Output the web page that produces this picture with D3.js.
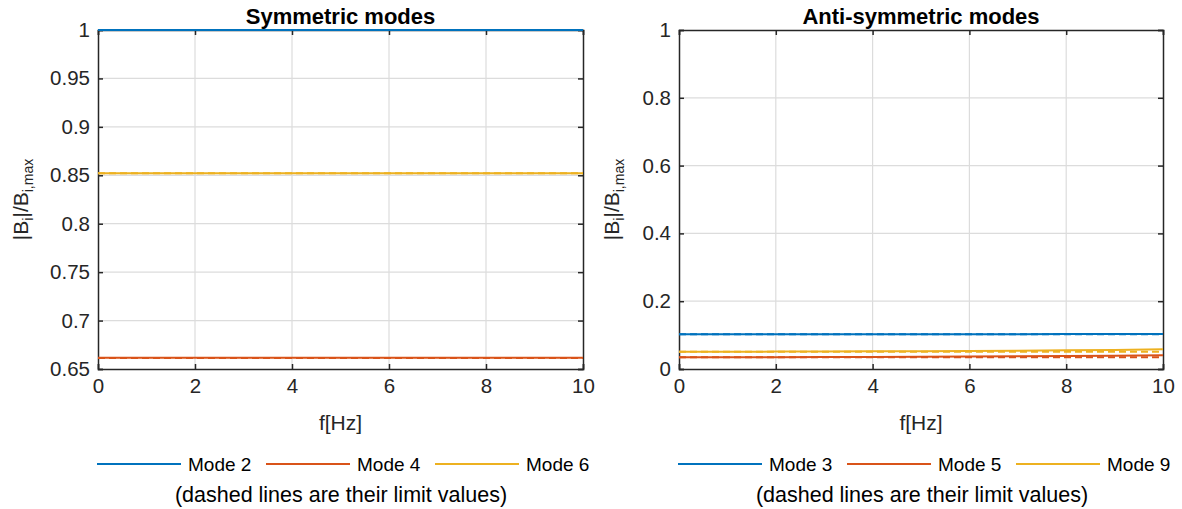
<!DOCTYPE html>
<html>
<head>
<meta charset="utf-8">
<script src="https://cdn.jsdelivr.net/npm/d3@7"></script>
<style>
  html, body { margin: 0; padding: 0; background: #fff; }
  svg { display: block; font-family: "Liberation Sans", Arial, sans-serif; }
</style>
</head>
<body>
<svg id="chart" width="1182" height="509"></svg>
<script>
// Frequency samples (Hz)
const freq = [0, 1, 2, 3, 4, 5, 6, 7, 8, 9, 10];

// Symmetric modes: normalised amplitude |B_i|/B_i,max and their limit values
const mode2 = [1, 1, 1, 1, 1, 1, 1, 1, 1, 1, 1];
const mode2Limit = 1;
const mode4 = [0.6617, 0.6617, 0.6617, 0.6617, 0.6617, 0.6617, 0.6617, 0.6617, 0.6617, 0.6617, 0.6617];
const mode4Limit = 0.6613;
const mode6 = [0.8522, 0.8522, 0.8522, 0.8522, 0.8522, 0.8522, 0.8522, 0.8522, 0.8522, 0.8522, 0.8522];
const mode6Limit = 0.8522;

// Anti-symmetric modes
const mode3 = [0.1024, 0.1024, 0.1024, 0.1025, 0.1025, 0.1026, 0.1027, 0.1028, 0.1030, 0.1032, 0.1035];
const mode3Limit = 0.1024;
const mode5 = [0.0345, 0.0346, 0.0348, 0.0351, 0.0355, 0.0360, 0.0366, 0.0374, 0.0382, 0.0392, 0.0404];
const mode5Limit = 0.0345;
const mode9 = [0.0510, 0.0511, 0.0513, 0.0516, 0.0520, 0.0526, 0.0533, 0.0541, 0.0551, 0.0564, 0.0580];
const mode9Limit = 0.0510;

// Tick values
const xTicks = [0, 2, 4, 6, 8, 10];
const yTicksSym = [0.65, 0.7, 0.75, 0.8, 0.85, 0.9, 0.95, 1];
const yTicksAnti = [0, 0.2, 0.4, 0.6, 0.8, 1];

const colors = { blue: "#0072BD", red: "#D95319", yellow: "#EDB120" };
const axisColor = "#262626";
const gridColor = "#dcdcdc";

const svg = d3.select("#chart");

function panel(opts) {
  const { left, right, top, bottom, yDomain, yTicks, yFormat, title, series, legendNames, yLabelX } = opts;
  const x = d3.scaleLinear().domain([0, 10]).range([left, right]);
  const y = d3.scaleLinear().domain(yDomain).range([bottom, top]);
  const g = svg.append("g");

  // grid
  g.append("g").selectAll("line").data(xTicks.slice(1, -1)).join("line")
    .attr("x1", d => x(d)).attr("x2", d => x(d)).attr("y1", top).attr("y2", bottom)
    .attr("stroke", gridColor).attr("stroke-width", 1.2);
  g.append("g").selectAll("line").data(yTicks.slice(1, -1)).join("line")
    .attr("y1", d => y(d)).attr("y2", d => y(d)).attr("x1", left).attr("x2", right)
    .attr("stroke", gridColor).attr("stroke-width", 1.2);

  // axes (ticks pointing inward on all four sides)
  const tl = 5;
  const bottomAxis = g.append("g").attr("transform", `translate(0,${bottom})`)
    .call(d3.axisBottom(x).tickValues(xTicks).tickSize(-tl).tickPadding(9).tickFormat(d3.format("d")));
  const topAxis = g.append("g").attr("transform", `translate(0,${top})`)
    .call(d3.axisTop(x).tickValues(xTicks).tickSize(-tl).tickFormat(""));
  const leftAxis = g.append("g").attr("transform", `translate(${left},0)`)
    .call(d3.axisLeft(y).tickValues(yTicks).tickSize(-tl).tickPadding(8).tickFormat(yFormat));
  const rightAxis = g.append("g").attr("transform", `translate(${right},0)`)
    .call(d3.axisRight(y).tickValues(yTicks).tickSize(-tl).tickFormat(""));
  [bottomAxis, topAxis, leftAxis, rightAxis].forEach(a => {
    a.select(".domain").attr("stroke", axisColor).attr("stroke-width", 1.5);
    a.selectAll(".tick line").attr("stroke", axisColor).attr("stroke-width", 1.5);
    a.selectAll(".tick text").attr("fill", axisColor).attr("font-size", 20.5)
      .attr("font-family", "Liberation Sans, Arial, sans-serif");
  });
  bottomAxis.selectAll(".tick text").attr("dy", "0.71em");

  // series: solid curves, then their dashed limit values on top
  const line = d3.line().x((d, i) => x(freq[i])).y(d => y(d));
  series.forEach(s => {
    g.append("path").datum(s.values).attr("d", line)
      .attr("fill", "none").attr("stroke", s.color).attr("stroke-width", 2);
  });
  series.forEach(s => {
    g.append("path").datum(freq.map(() => s.limit)).attr("d", line)
      .attr("fill", "none").attr("stroke", s.color).attr("stroke-width", 2)
      .attr("stroke-dasharray", "7,4");
  });

  // title
  g.append("text").attr("x", (left + right) / 2).attr("y", 24)
    .attr("text-anchor", "middle").attr("font-weight", "bold").attr("font-size", 22)
    .attr("fill", "#000").text(title);

  // x label
  g.append("text").attr("x", (left + right) / 2).attr("y", 430)
    .attr("text-anchor", "middle").attr("font-size", 21).attr("fill", axisColor).text("f[Hz]");

  // y label: |B_i|/B_i,max
  const yl = g.append("text")
    .attr("transform", `translate(${yLabelX},${(top + bottom) / 2}) rotate(-90)`)
    .attr("text-anchor", "middle").attr("font-size", 21).attr("fill", axisColor);
  yl.append("tspan").text("|B");
  yl.append("tspan").attr("font-size", 14).attr("dy", 5).text("i");
  yl.append("tspan").attr("dy", -5).text("|/B");
  yl.append("tspan").attr("font-size", 14).attr("dy", 5).text("i,max");

  // legend
  const legX = left - 1;
  const legY = 464;
  const slots = [0, 169, 338];
  series.forEach((s, i) => {
    const lx = legX + slots[i];
    g.append("line").attr("x1", lx).attr("x2", lx + 84).attr("y1", legY).attr("y2", legY)
      .attr("stroke", s.color).attr("stroke-width", 2);
    g.append("text").attr("x", lx + 91).attr("y", legY).attr("dy", "0.35em")
      .attr("font-size", 19).attr("fill", "#000").text(legendNames[i]);
  });
  g.append("text").attr("x", legX + 244).attr("y", 494).attr("dy", "0.35em")
    .attr("text-anchor", "middle").attr("font-size", 21.5).attr("fill", "#000")
    .text("(dashed lines are their limit values)");
}

panel({
  left: 98, right: 583, top: 30, bottom: 369,
  yDomain: [0.65, 1], yTicks: yTicksSym,
  yFormat: d => d3.format("")(+d.toFixed(2)),
  title: "Symmetric modes",
  yLabelX: 28,
  series: [
    { values: mode2, limit: mode2Limit, color: colors.blue },
    { values: mode4, limit: mode4Limit, color: colors.red },
    { values: mode6, limit: mode6Limit, color: colors.yellow }
  ],
  legendNames: ["Mode 2", "Mode 4", "Mode 6"]
});

panel({
  left: 679, right: 1163, top: 30, bottom: 369,
  yDomain: [0, 1], yTicks: yTicksAnti,
  yFormat: d => d3.format("")(+d.toFixed(1)),
  title: "Anti-symmetric modes",
  yLabelX: 619,
  series: [
    { values: mode3, limit: mode3Limit, color: colors.blue },
    { values: mode5, limit: mode5Limit, color: colors.red },
    { values: mode9, limit: mode9Limit, color: colors.yellow }
  ],
  legendNames: ["Mode 3", "Mode 5", "Mode 9"]
});
</script>
</body>
</html>
